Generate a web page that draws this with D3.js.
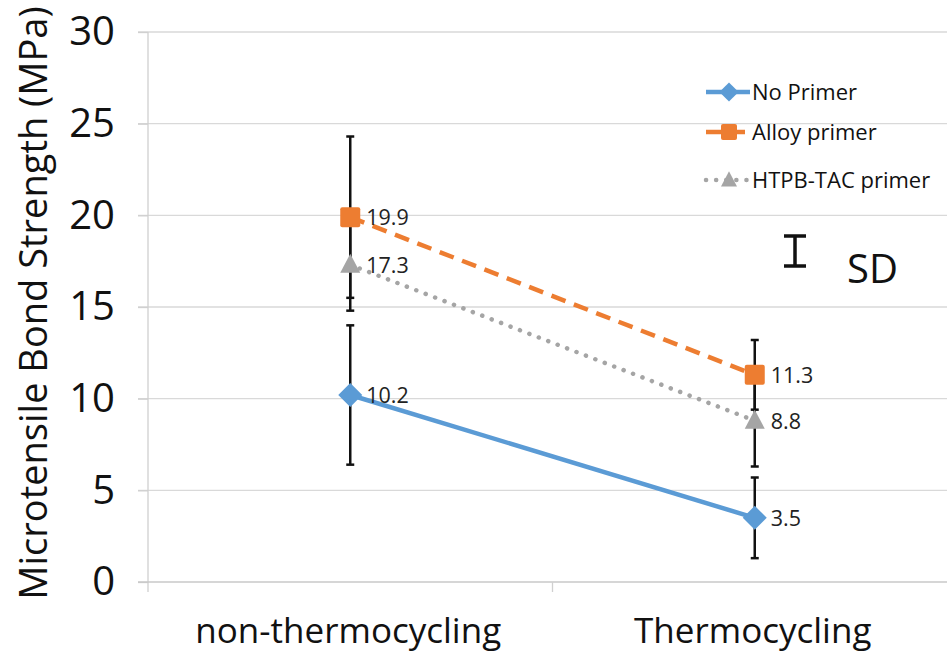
<!DOCTYPE html>
<html><head><meta charset="utf-8">
<script src="https://cdn.jsdelivr.net/npm/d3@7"></script>
<style>body{margin:0;background:#fff}svg{display:block}text{font-family:"Open Sans","Noto Sans",sans-serif}</style>
</head><body>
<svg id="c" width="947" height="652"></svg>
<script>
const categories = ["non-thermocycling", "Thermocycling"];
const seriesNames = ["No Primer", "Alloy primer", "HTPB-TAC primer"];
const noPrimer = [10.2, 3.5];
const alloyPrimer = [19.9, 11.3];
const htpbPrimer = [17.3, 8.8];
const noPrimerSD = [3.8, 2.2];
const alloyPrimerSD = [4.4, 1.9];
const htpbPrimerSD = [2.5, 2.5];
const yTicks = [0, 5, 10, 15, 20, 25, 30];

const svg = d3.select("#c");
const x = d3.scaleBand().domain(categories).range([148, 957]).padding(0);
const y = d3.scaleLinear().domain([0, 30]).range([582, 32]);

const series = [
  {name: seriesNames[0], vals: noPrimer, sd: noPrimerSD, color: "#5b9bd5", dash: null, sym: "diamond"},
  {name: seriesNames[1], vals: alloyPrimer, sd: alloyPrimerSD, color: "#ed7d31", dash: "15,9", sym: "square"},
  {name: seriesNames[2], vals: htpbPrimer, sd: htpbPrimerSD, color: "#a5a5a5", dash: "0.1,10", sym: "triangle"}
];

// gridlines
svg.append("g").selectAll("line").data(yTicks.filter(d => d > 0)).join("line")
  .attr("x1", 138).attr("x2", 947).attr("y1", d => y(d)).attr("y2", d => y(d))
  .attr("stroke", "#d9d9d9").attr("stroke-width", 1.3);

// y axis
const yAxis = d3.axisLeft(y).tickValues(yTicks).tickSize(10).tickPadding(23);
const gy = svg.append("g").attr("transform", "translate(148,0)").call(yAxis);
gy.select(".domain").attr("stroke", "#d0d0d0").attr("stroke-width", 1.3).attr("d", "M0,32V592");
gy.selectAll(".tick line").attr("stroke", "#d0d0d0").attr("stroke-width", 1.3);
gy.selectAll(".tick text").attr("font-size", 40).attr("fill", "#111").attr("font-family", "Open Sans");

// x axis
const gx = svg.append("g").attr("transform", "translate(0,582)");
gx.append("line").attr("x1", 138).attr("x2", 947).attr("stroke", "#c8c8c8").attr("stroke-width", 1.3);
gx.append("line").attr("x1", x.step() + 148).attr("x2", x.step() + 148).attr("y1", 0).attr("y2", 10)
  .attr("stroke", "#d0d0d0").attr("stroke-width", 1.3);
gx.selectAll("text.cat").data(categories).join("text").attr("class", "cat")
  .attr("x", d => x(d) + x.bandwidth() / 2 - 2).attr("y", 61)
  .attr("text-anchor", "middle").attr("font-size", 35).attr("fill", "#111").text(d => d);

// y title
svg.append("text").attr("transform", "translate(47,303) rotate(-90)")
  .attr("text-anchor", "middle").attr("font-size", 38).attr("fill", "#111")
  .text("Microtensile Bond Strength (MPa)");

const cx = d => x(d) + x.bandwidth() / 2;
const line = d3.line().x(d => cx(d.c)).y(d => y(d.v));

// lines
series.forEach(s => {
  const pts = categories.map((c, i) => ({c, v: s.vals[i]}));
  svg.append("path").datum(pts).attr("d", line).attr("fill", "none")
    .attr("stroke", s.color).attr("stroke-width", 4.5)
    .attr("stroke-dasharray", s.dash).attr("stroke-linecap", s.sym === "triangle" ? "round" : "butt");
});

// error bars
series.forEach(s => {
  categories.forEach((c, i) => {
    const g = svg.append("g").attr("stroke", "#111").attr("stroke-width", 2.5);
    const X = cx(c), t = y(s.vals[i] + s.sd[i]), b = y(s.vals[i] - s.sd[i]);
    g.append("line").attr("x1", X).attr("x2", X).attr("y1", t).attr("y2", b);
    g.append("line").attr("x1", X - 4).attr("x2", X + 4).attr("y1", t).attr("y2", t);
    g.append("line").attr("x1", X - 4).attr("x2", X + 4).attr("y1", b).attr("y2", b);
  });
});

function marker(g, sym, X, Y, color, scale) {
  const k = scale || 1;
  if (sym === "diamond") {
    g.append("path").attr("d", `M${X},${Y - 12 * k}L${X + 12 * k},${Y}L${X},${Y + 12 * k}L${X - 12 * k},${Y}Z`).attr("fill", color);
  } else if (sym === "square") {
    g.append("rect").attr("x", X - 10 * k).attr("y", Y - 10 * k).attr("width", 20 * k).attr("height", 20 * k).attr("rx", 2).attr("fill", color);
  } else {
    g.append("path").attr("d", `M${X},${Y - 11 * k}L${X + 10 * k},${Y + 8 * k}L${X - 10 * k},${Y + 8 * k}Z`).attr("fill", color);
  }
}

// markers and labels
series.forEach(s => {
  categories.forEach((c, i) => {
    marker(svg.append("g"), s.sym, cx(c), y(s.vals[i]), s.color);
    svg.append("text").attr("x", cx(c) + 16).attr("y", y(s.vals[i]) + 8)
      .attr("font-size", 21.5).attr("fill", "#222").text(s.vals[i].toFixed(1));
  });
});

// legend
const legY = [92, 132, 180];
series.forEach((s, i) => {
  const g = svg.append("g");
  g.append("line").attr("x1", 706).attr("x2", 750).attr("y1", legY[i]).attr("y2", legY[i])
    .attr("stroke", s.color).attr("stroke-width", 4.5).attr("stroke-dasharray", s.dash)
    .attr("stroke-linecap", s.sym === "triangle" ? "round" : "butt");
  marker(g, s.sym, 729, legY[i], s.color, 0.8);
  g.append("text").attr("x", 752).attr("y", legY[i] + 8).attr("font-size", 22).attr("fill", "#111").text(s.name);
});

// SD annotation
const sd = svg.append("g").attr("stroke", "#111").attr("stroke-width", 3.5);
sd.append("line").attr("x1", 795).attr("x2", 795).attr("y1", 236).attr("y2", 266);
sd.append("line").attr("x1", 784).attr("x2", 806).attr("y1", 236).attr("y2", 236);
sd.append("line").attr("x1", 784).attr("x2", 806).attr("y1", 266).attr("y2", 266);
svg.append("text").attr("x", 847).attr("y", 283).attr("font-size", 40).attr("fill", "#111").text("SD");
</script>
</body></html>
